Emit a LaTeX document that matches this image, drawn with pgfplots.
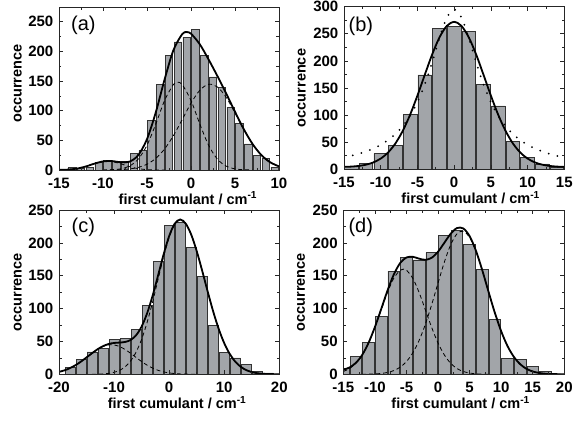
\documentclass[border=0pt]{standalone}
\usepackage{pgfplots}
\pgfplotsset{compat=1.18}
\usepackage{fontspec}
\setmainfont{Liberation Sans}
\definecolor{barfill}{HTML}{A2A5A9}
\pgfplotsset{
  panel/.style={
    scale only axis,
    axis on top,
    anchor=north west,
    axis line style={line width=0.9bp, black!85},
    every tick/.style={line width=0.7bp, black!85},
    major tick length=4bp, minor tick length=2.5bp,
    minor x tick num=1, minor y tick num=1,
    ymin=0,
    /pgf/number format/assume math mode=true,
    ticklabel style={font=\bfseries\fontsize{15bp}{18bp}\selectfont, inner sep=0pt},
    xticklabel style={anchor=base, yshift=-18.5bp},
    yticklabel style={anchor=east, xshift=-5.5bp},
    label style={font=\bfseries\fontsize{14.5bp}{17bp}\selectfont, inner sep=0pt},
    xlabel={first cumulant / cm\textsuperscript{-1}},
    ylabel={occurrence},
  },
  hist/.style={ybar, bar shift=0pt, fill=barfill, draw=black!80, line width=0.7bp},
  fitc/.style={black, line width=1.8bp, smooth, no marks},
  comp/.style={black, line width=0.8bp, dash pattern=on 4bp off 3bp, smooth, no marks},
  dotc/.style={black, line width=2bp, line cap=round, dash pattern=on 0bp off 9bp, smooth, no marks},
}
\newcommand{\plab}[3]{\node[anchor=base west, inner sep=0pt, font=\fontsize{20bp}{24bp}\selectfont] at ([xshift=#1, yshift=#2]rel axis cs:0,1) {#3};}
\begin{document}
\begin{tikzpicture}
\path[use as bounding box] (0,0) rectangle (573bp,-424bp);

% (a)
\begin{axis}[panel, at={(59bp,-7bp)}, width=220bp, height=163bp,
  xmin=-15, xmax=10, ymax=275, xtick={-15,-10,...,10}, ytick={0,50,...,250},
  xlabel style={at={([yshift=-34bp]axis description cs:0.586,0)}, anchor=base},
  ylabel style={at={([xshift=-37.5bp]axis description cs:0,0.53)}, anchor=base}]
\addplot[hist, bar width=0.85] coordinates {(-13.5,4) (-12.5,3) (-11.5,5) (-10.5,13) (-9.5,16) (-8.5,15) (-7.5,15) (-6.5,28) (-5.5,33) (-4.5,84) (-3.5,145) (-2.5,194) (-1.5,216) (-0.5,224) (0.5,237) (1.5,194) (2.5,157) (3.5,140) (4.5,106) (5.5,78) (6.5,44) (7.5,24) (8.5,20) (9.5,5)};
\addplot[comp] coordinates {(-15,0.14) (-14,0.66) (-13,2.27) (-12,5.72) (-11,10.6) (-10,14.4) (-9.5,15) (-9,14.4) (-8,10.6) (-7,5.72) (-6,2.27) (-5,0.66) (-4,0.14) (-3,0.02)};
\addplot[comp] coordinates {(-10,0.08) (-9,0.44) (-8,1.88) (-7,6.5) (-6,18.3) (-5,41.7) (-4,77.6) (-3,117.3) (-2,144.2) (-1.5,148) (-1,144.2) (0,117.3) (1,77.6) (2,41.7) (3,18.3) (4,6.5) (5,1.88) (6,0.44) (7,0.08)};
\addplot[comp] coordinates {(-10,0.06) (-9,0.21) (-8,0.64) (-7,1.76) (-6,4.37) (-5,9.75) (-4,19.6) (-3,35.5) (-2,57.9) (-1,85.1) (0,112.7) (1,134.5) (2,144.7) (3,140.2) (4,122.5) (5,96.4) (6,68.4) (7,43.7) (8,25.1) (9,13.0) (10,6.1)};
\addplot[fitc] coordinates {(-15,0.14) (-14,0.66) (-13,2.27) (-12,5.72) (-11,10.6) (-10,14.5) (-9,15.1) (-8,13.1) (-7,14.0) (-6,24.9) (-5,52.1) (-4,97.3) (-3,152.8) (-2,202.1) (-1,229.3) (-0.5,232.7) (0,230) (1,212.1) (2,186.4) (3,158.5) (4,129) (5,98.3) (6,68.8) (7,43.8) (8,25.1) (9,13.0) (10,6.1)};
\plab{12bp}{-23.5bp}{(a)}
\end{axis}

% (b)
\begin{axis}[panel, at={(344bp,-6.7bp)}, width=220.3bp, height=162.6bp,
  xmin=-15, xmax=15, ymax=300, xtick={-15,-10,...,15}, ytick={0,50,...,300},
  xlabel style={at={([yshift=-34bp]axis description cs:0.575,0)}, anchor=base},
  ylabel style={at={([xshift=-38.5bp]axis description cs:0,0.5)}, anchor=base}]
\addplot[hist, bar width=1.85] coordinates {(-14,5) (-12,11) (-10,29) (-8,44) (-6,101) (-4,174) (-2,260) (0,264) (2,255) (4,157) (6,117) (8,51) (10,22) (12,10) (14,4)};
\addplot[dotc] coordinates {(-15,22) (-14,24.9) (-13,28.5) (-12,32.9) (-11,38.4) (-10,45.2) (-9,53.9) (-8,65) (-7,79.6) (-6,98.7) (-5,123.9) (-4,156.6) (-3,197) (-2,241.6) (-1,279.6) (0,295) (1,279.6) (2,241.6) (3,197) (4,156.6) (5,123.9) (6,98.7) (7,79.6) (8,65) (9,53.9) (10,45.2) (11,38.4) (12,32.9) (13,28.5) (14,24.9) (15,22)};
\addplot[fitc] coordinates {(-15,4.5) (-14,5) (-13,6.2) (-12,8.5) (-11,12.7) (-10,19.8) (-9,31) (-8,47.7) (-7,70.9) (-6,100.6) (-5,136) (-4,174.3) (-3,211.7) (-2,243.3) (-1,264.5) (0,272) (1,264.5) (2,243.3) (3,211.7) (4,174.3) (5,136) (6,100.6) (7,70.9) (8,47.7) (9,31) (10,19.8) (11,12.7) (12,8.5) (13,6.2) (14,5) (15,4.5)};
\plab{4.5bp}{-24.3bp}{(b)}
\end{axis}

% (c)
\begin{axis}[panel, at={(59bp,-210bp)}, width=220.3bp, height=164.3bp,
  xmin=-20, xmax=20, ymax=250, xtick={-20,-10,...,20}, ytick={0,50,...,250},
  xlabel style={at={([yshift=-34bp]axis description cs:0.536,0)}, anchor=base},
  ylabel style={at={([xshift=-37.5bp]axis description cs:0,0.5)}, anchor=base}]
\addplot[hist, bar width=1.82] coordinates {(-18,10) (-16,22) (-14,34) (-12,39) (-10,53) (-8,54) (-6,68) (-4,105) (-2,172) (0,227) (2,231) (4,193) (6,149) (8,75) (10,33) (12,25) (14,15) (16,5) (18,2)};
\addplot[comp] coordinates {(-20,3.67) (-19,6.05) (-18,9.43) (-17,13.9) (-16,19.4) (-15,25.6) (-14,32.0) (-13,37.8) (-12,42.3) (-11,44.7) (-10.5,45) (-10,44.7) (-9,42.3) (-8,37.8) (-7,32.0) (-6,25.6) (-5,19.4) (-4,13.9) (-3,9.43) (-2,6.05) (-1,3.67) (0,2.1) (1,1.14) (2,0.59) (3,0.29) (4,0.13) (5,0.05)};
\addplot[comp] coordinates {(-14,0.1) (-13,0.26) (-12,0.62) (-11,1.4) (-10,3.0) (-9,6.0) (-8,11.4) (-7,20.2) (-6,33.8) (-5,53.2) (-4,79.0) (-3,110.2) (-2,144.7) (-1,178.9) (0,208.2) (1,228) (2,235) (3,229.2) (4,212.6) (5,187.6) (6,157.5) (7,125.8) (8,95.5) (9,69.0) (10,47.4) (11,31) (12,19.3) (13,11.4) (14,6.4) (15,3.4) (16,1.7) (17,0.85) (18,0.4) (20,0.07)};
\addplot[fitc] coordinates {(-20,3.67) (-19,6.05) (-18,9.43) (-17,13.9) (-16,19.4) (-15,25.7) (-14,32.1) (-13,38.1) (-12,42.9) (-11,46.1) (-10,47.7) (-9,48.3) (-8,49.2) (-7,52.2) (-6,59.4) (-5,72.6) (-4,92.9) (-3,119.6) (-2,150.8) (-1,182.6) (0,210.3) (1,229.1) (2,235.6) (3,229.5) (4,212.7) (5,187.6) (6,157.5) (7,125.8) (8,95.5) (9,69) (10,47.4) (11,31) (12,19.3) (13,11.4) (14,6.4) (15,3.4) (16,1.7) (17,0.85) (18,0.4) (20,0.07)};
\plab{12.5bp}{-22bp}{(c)}
\end{axis}

% (d)
\begin{axis}[panel, at={(343.3bp,-210bp)}, width=221bp, height=164.3bp,
  xmin=-15, xmax=20, ymax=250, xtick={-15,-10,...,20}, ytick={0,50,...,250},
  xlabel style={at={([yshift=-34bp]axis description cs:0.531,0)}, anchor=base},
  ylabel style={at={([xshift=-38.5bp]axis description cs:0,0.5)}, anchor=base}]
\addplot[hist, bar width=1.85] coordinates {(-15,9) (-13,27) (-11,49) (-9,88) (-7,157) (-5,178) (-3,174) (-1,185) (1,211) (3,219) (5,198) (7,159) (9,84) (11,24) (13,22) (15,12) (17,4)};
\addplot[comp] coordinates {(-15,4.3) (-14,8.8) (-13,16.8) (-12,29.5) (-11,47.7) (-10,71.2) (-9,98) (-8,124.6) (-7,146.2) (-6,158.4) (-5.5,160) (-5,158.4) (-4,146.2) (-3,124.6) (-2,98) (-1,71.2) (0,47.7) (1,29.5) (2,16.8) (3,8.8) (4,4.3) (5,1.9) (6,0.8) (7,0.3) (8,0.1)};
\addplot[comp] coordinates {(-12,0.09) (-11,0.23) (-10,0.57) (-9,1.3) (-8,2.8) (-7,5.7) (-6,10.8) (-5,19.4) (-4,32.6) (-3,51.4) (-2,76.2) (-1,106.1) (0,138.8) (1,170.6) (2,197) (3,213.7) (4,217.7) (5,208.4) (6,187.4) (7,158.3) (8,125.6) (9,93.6) (10,65.6) (11,43.1) (12,26.7) (13,15.5) (14,8.4) (15,4.3) (16,2.1) (17,0.94) (18,0.4) (20,0.06)};
\addplot[fitc] coordinates {(-15,7) (-14,10.5) (-13,17.5) (-12,29.6) (-11,47.9) (-10,71.8) (-9,99.3) (-8,127.4) (-7,151.9) (-6,169.2) (-5,177.8) (-4,178.8) (-3,176) (-2,174.2) (-1,177.3) (0,186.5) (1,200.1) (2,213.8) (3,222.5) (4,222) (5,210.3) (6,188.2) (7,158.6) (8,125.6) (9,93.6) (10,65.6) (11,43.1) (12,26.7) (13,15.5) (14,8.4) (15,4.3) (16,2.1) (17,0.94) (18,0.4) (20,0.06)};
\plab{5bp}{-22bp}{(d)}
\end{axis}
\end{tikzpicture}
\end{document}
